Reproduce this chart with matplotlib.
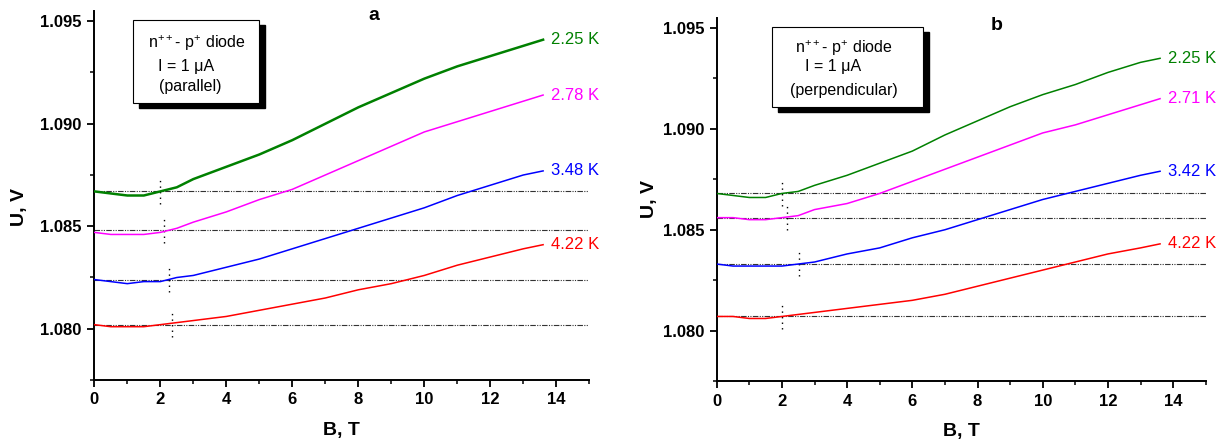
import numpy as np
import matplotlib
matplotlib.use("Agg")
import matplotlib.pyplot as plt
from matplotlib.patches import Rectangle
from matplotlib.ticker import MultipleLocator, FormatStrFormatter

#//==\\--//==\\--//==\\--//==\\--//==\\--//==\\--//==\\--//==\\--//==\\--//==\\#

plt.rcParams['font.family'] = ['Liberation Sans', 'DejaVu Sans']
plt.rcParams['mathtext.fontset'] = 'custom'
plt.rcParams['mathtext.rm'] = 'Liberation Sans'
plt.rcParams['mathtext.default'] = 'regular'

# magnetic field [T]
B = [0, 0.5, 1, 1.5, 2, 2.5, 3, 4, 5, 6, 7, 8, 9, 10, 11, 12, 13, 13.6]

# panel a (parallel), U [V]
a_225 = [1.0867, 1.0866, 1.0865, 1.0865, 1.0867, 1.0869, 1.0873, 1.0879, 1.0885,
         1.0892, 1.0900, 1.0908, 1.0915, 1.0922, 1.0928, 1.0933, 1.0938, 1.0941]
a_278 = [1.0847, 1.0846, 1.0846, 1.0846, 1.0847, 1.0849, 1.0852, 1.0857, 1.0863,
         1.0868, 1.0875, 1.0882, 1.0889, 1.0896, 1.0901, 1.0906, 1.0911, 1.0914]
a_348 = [1.0824, 1.0823, 1.0822, 1.0823, 1.0823, 1.0825, 1.0826, 1.0830, 1.0834,
         1.0839, 1.0844, 1.0849, 1.0854, 1.0859, 1.0865, 1.0870, 1.0875, 1.0877]
a_422 = [1.0802, 1.0801, 1.0801, 1.0801, 1.0802, 1.0803, 1.0804, 1.0806, 1.0809,
         1.0812, 1.0815, 1.0819, 1.0822, 1.0826, 1.0831, 1.0835, 1.0839, 1.0841]

# panel b (perpendicular), U [V]
b_225 = [1.0868, 1.0867, 1.0866, 1.0866, 1.0868, 1.0869, 1.0872, 1.0877, 1.0883,
         1.0889, 1.0897, 1.0904, 1.0911, 1.0917, 1.0922, 1.0928, 1.0933, 1.0935]
b_271 = [1.0856, 1.0856, 1.0855, 1.0855, 1.0856, 1.0857, 1.0860, 1.0863, 1.0868,
         1.0874, 1.0880, 1.0886, 1.0892, 1.0898, 1.0902, 1.0907, 1.0912, 1.0915]
b_342 = [1.0833, 1.0832, 1.0832, 1.0832, 1.0832, 1.0833, 1.0834, 1.0838, 1.0841,
         1.0846, 1.0850, 1.0855, 1.0860, 1.0865, 1.0869, 1.0873, 1.0877, 1.0879]
b_422 = [1.0807, 1.0807, 1.0806, 1.0806, 1.0807, 1.0808, 1.0809, 1.0811, 1.0813,
         1.0815, 1.0818, 1.0822, 1.0826, 1.0830, 1.0834, 1.0838, 1.0841, 1.0843]

temps_a = ["2.25 K", "2.78 K", "3.48 K", "4.22 K"]
temps_b = ["2.25 K", "2.71 K", "3.42 K", "4.22 K"]

# zero-field levels (dash-dot reference lines)
base_a = [1.0867, 1.0848, 1.0824, 1.0802]
base_b = [1.0868, 1.0856, 1.0833, 1.0807]

# onset field of the magnetoresistance (short dotted marks)
onset_a = [2.0, 2.1, 2.25, 2.35]
onset_b = [2.0, 2.17, 2.52, 2.0]

colors = ['#008000', '#ff00ff', '#0000ff', '#ff0000']

W, H = 1227, 443

#//==\\--//==\\--//==\\--//==\\--//==\\--//==\\--//==\\--//==\\--//==\\--//==\\#

def px(x, y):
    return x / W, 1 - y / H


def fn_panel(fig, rect, curves, temps, bases, onsets, lws):
    ax = fig.add_axes(rect)
    for k, U in enumerate(curves):
        ax.plot(B, U, color=colors[k], lw=lws[k], zorder=3)
        ax.text(B[-1] + 0.25, U[-1], temps[k], color=colors[k], fontsize=12,
                va='center', ha='left', clip_on=False)
        ax.plot([0, 15], [bases[k], bases[k]], color='#333333', lw=0.8,
                ls=(0, (5, 1.2, 1, 1.2, 1, 1.2)), zorder=2)
        ax.plot([onsets[k], onsets[k]], [bases[k] - 0.0006, bases[k] + 0.0006],
                color='black', lw=1.0, ls=(0, (1, 3)), zorder=2)

    ax.set_xlim(0, 15)
    ax.set_ylim(1.0775, 1.0955)
    ax.xaxis.set_major_locator(MultipleLocator(2))
    ax.xaxis.set_minor_locator(MultipleLocator(1))
    ax.yaxis.set_major_locator(MultipleLocator(0.005))
    ax.yaxis.set_minor_locator(MultipleLocator(0.0025))
    ax.yaxis.set_major_formatter(FormatStrFormatter('%.3f'))

    for s in ['top', 'right']:
        ax.spines[s].set_visible(False)
    for s in ['left', 'bottom']:
        ax.spines[s].set_linewidth(1.4)
    ax.tick_params(which='major', direction='out', length=5, width=1.3,
                   labelsize=12, pad=4)
    ax.tick_params(which='minor', direction='out', length=3, width=1.1)
    for lab in ax.get_xticklabels() + ax.get_yticklabels():
        lab.set_fontweight('bold')

    ax.set_xlabel("B, T", fontsize=14, fontweight='bold')
    ax.set_ylabel("U, V", fontsize=14, fontweight='bold')
    return ax


def fn_box(fig, x0, y0, x1, y1, lines):
    # shadow then white box
    sx, sy = px(x0 + 6, y1 + 5)
    fig.add_artist(Rectangle((sx, sy), (x1 - x0) / W, (y1 - y0) / H,
                             transform=fig.transFigure, facecolor='black',
                             edgecolor='black', zorder=5))
    bx, by = px(x0, y1)
    fig.add_artist(Rectangle((bx, by), (x1 - x0) / W, (y1 - y0) / H,
                             transform=fig.transFigure, facecolor='white',
                             edgecolor='black', lw=0.8, zorder=6))
    for (tx, ty, s) in lines:
        fx, fy = px(tx, ty)
        fig.text(fx, fy, s, fontsize=11.5, ha='left', va='center', zorder=7)


#//==\\--//==\\--//==\\--//==\\--//==\\--//==\\--//==\\--//==\\--//==\\--//==\\#
def do_main():
    fig = plt.figure(figsize=(W / 100, H / 100), dpi=100)

    ax_a = fn_panel(fig, [94.3 / W, 1 - 380 / H, 495 / W, 369 / H],
                    [a_225, a_278, a_348, a_422], temps_a, base_a, onset_a,
                    [1.8, 1.1, 1.1, 1.1])
    ax_a.yaxis.set_label_coords(-0.134, 0.47)
    ax_a.xaxis.set_label_coords(0.50, -0.115)

    ax_b = fn_panel(fig, [716.7 / W, 1 - 381 / H, 489 / W, 363 / H],
                    [b_225, b_271, b_342, b_422], temps_b, base_b, onset_b,
                    [1.1, 1.1, 1.1, 1.1])
    ax_b.yaxis.set_label_coords(-0.120, 0.50)
    ax_b.xaxis.set_label_coords(0.50, -0.115)

    fig.text(*px(374, 15), "a", fontsize=14, fontweight='bold', ha='center', va='center')
    fig.text(*px(997, 25), "b", fontsize=14, fontweight='bold', ha='center', va='center')

    fn_box(fig, 133, 20, 259, 103, [(148, 43, "n$^{++}$- p$^{+}$ diode"),
                                    (158, 66, "I = 1 μA"),
                                    (159, 87, "(parallel)")])
    fn_box(fig, 772, 27, 923, 107, [(795, 48, "n$^{++}$- p$^{+}$ diode"),
                                    (805, 67, "I = 1 μA"),
                                    (790, 90, "(perpendicular)")])

    fig.savefig("out.png", dpi=100)

#//==\\--//==\\--//==\\--//==\\--//==\\--//==\\--//==\\--//==\\--//==\\--//==\\#

if __name__ == "__main__":
    do_main()
